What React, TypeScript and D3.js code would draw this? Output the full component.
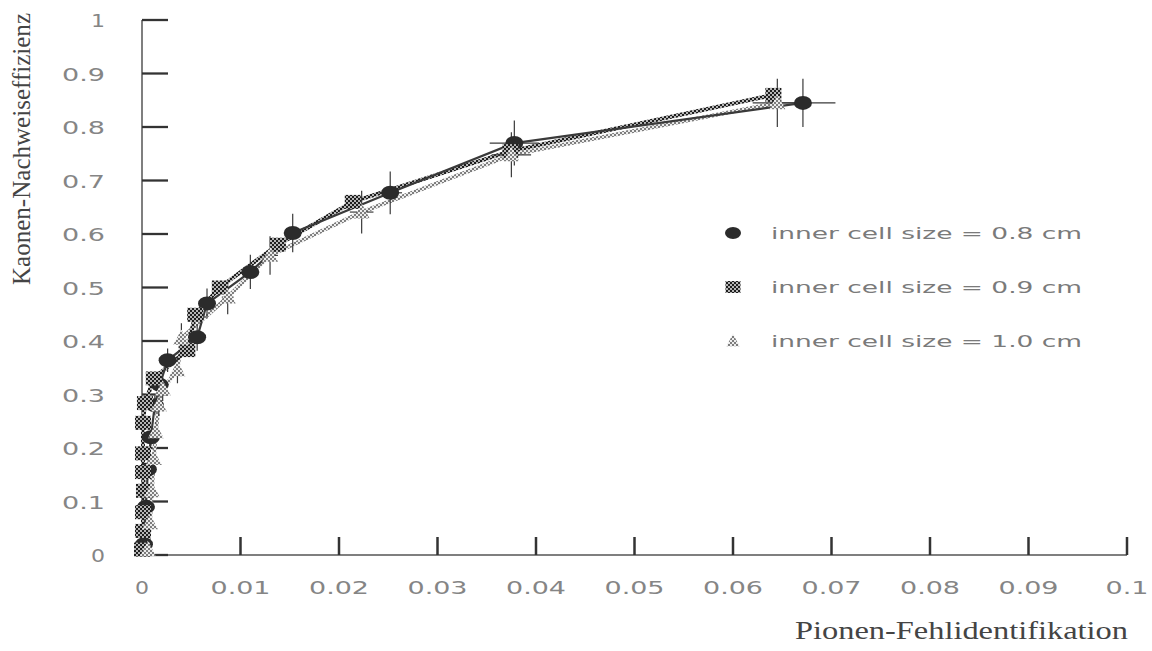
import React from "react";
import * as d3 from "d3";

const xTicks = [0, 0.01, 0.02, 0.03, 0.04, 0.05, 0.06, 0.07, 0.08, 0.09, 0.1];
const xTickLabels = ["0", "0.01", "0.02", "0.03", "0.04", "0.05", "0.06", "0.07", "0.08", "0.09", "0.1"];
const yTicks = [0, 0.1, 0.2, 0.3, 0.4, 0.5, 0.6, 0.7, 0.8, 0.9, 1];
const yTickLabels = ["0", "0.1", "0.2", "0.3", "0.4", "0.5", "0.6", "0.7", "0.8", "0.9", "1"];

// inner cell size = 0.8 cm (ellipses)
const s1X = [0.0002, 0.0004, 0.0006, 0.0009, 0.0013, 0.0018, 0.0026, 0.0056, 0.0066, 0.011, 0.0153, 0.0252, 0.0378, 0.0671];
const s1Y = [0.02, 0.09, 0.16, 0.22, 0.28, 0.318, 0.364, 0.407, 0.47, 0.529, 0.602, 0.677, 0.77, 0.845];
const s1XErr = [0.0001, 0.0001, 0.0001, 0.0002, 0.0002, 0.0002, 0.0003, 0.0004, 0.0005, 0.0006, 0.0008, 0.0012, 0.0025, 0.0033];
const s1YErr = [0.01, 0.012, 0.014, 0.016, 0.018, 0.02, 0.022, 0.025, 0.028, 0.032, 0.036, 0.04, 0.042, 0.045];

// inner cell size = 0.9 cm (squares)
const s2X = [0.0, 0.0001, 0.0001, 0.0002, 0.0001, 0.0001, 0.0001, 0.0003, 0.0012, 0.0046, 0.0054, 0.0079, 0.0138, 0.0214, 0.0374, 0.0641];
const s2Y = [0.01, 0.045, 0.08, 0.12, 0.155, 0.19, 0.247, 0.284, 0.33, 0.383, 0.449, 0.5, 0.58, 0.66, 0.755, 0.86];

// inner cell size = 1.0 cm (triangles)
const s3X = [0.0006, 0.0008, 0.001, 0.0012, 0.0014, 0.0017, 0.0021, 0.0036, 0.004, 0.0087, 0.013, 0.0223, 0.0375, 0.0645];
const s3Y = [0.01, 0.06, 0.12, 0.18, 0.23, 0.28, 0.31, 0.346, 0.405, 0.482, 0.56, 0.641, 0.748, 0.845];
const s3XErr = [0.0001, 0.0001, 0.0002, 0.0002, 0.0002, 0.0002, 0.0003, 0.0004, 0.0004, 0.0006, 0.0008, 0.0012, 0.002, 0.0025];
const s3YErr = [0.01, 0.012, 0.014, 0.016, 0.018, 0.02, 0.022, 0.025, 0.028, 0.032, 0.036, 0.04, 0.042, 0.045];

const legendLabels = ["inner cell size = 0.8 cm", "inner cell size = 0.9 cm", "inner cell size = 1.0 cm"];

const W = 1152;
const H = 651;

const x = d3.scaleLinear().domain([0, 0.1]).range([142, 1127]);
const y = d3.scaleLinear().domain([0, 1]).range([555, 20]);

function labelWidth(s: string) {
  let w = 0;
  for (const c of s) w += c === "." ? 12 : 17;
  return w - 3;
}

const tickFont = { fontFamily: "DejaVu Sans", fontSize: 18, fill: "#858585" };

function Ellipse({ cx, cy, rx = 9, ry = 7 }: any) {
  return <ellipse cx={cx} cy={cy} rx={rx} ry={ry} fill="#2b2b2b" />;
}
function Square({ cx, cy, w = 16, h = 14 }: any) {
  return <rect x={cx - w / 2} y={cy - h / 2} width={w} height={h} fill="url(#checkDark)" />;
}
function Tri({ cx, cy, s = 16 }: any) {
  const p = d3.path();
  p.moveTo(cx, cy - s * 0.55);
  p.lineTo(cx + s / 2, cy + s * 0.4);
  p.lineTo(cx - s / 2, cy + s * 0.4);
  p.closePath();
  return <path d={p.toString()} fill="url(#checkLight)" />;
}

export default function App() {
  const line = d3.line<[number, number]>().x((d) => x(d[0])).y((d) => y(d[1]));
  const s1 = s1X.map((v, i) => [v, s1Y[i]] as [number, number]);
  const s2 = s2X.map((v, i) => [v, s2Y[i]] as [number, number]);
  const s3 = s3X.map((v, i) => [v, s3Y[i]] as [number, number]);

  const errBars = (xs: number[], ys: number[], xe: number[], ye: number[], key: string) =>
    xs.map((v, i) => (
      <g key={key + i} stroke="#3a3a3a" strokeWidth={1.2}>
        <line x1={x(v)} x2={x(v)} y1={y(ys[i] - ye[i])} y2={y(ys[i] + ye[i])} />
        <line x1={x(v - xe[i])} x2={x(v + xe[i])} y1={y(ys[i])} y2={y(ys[i])} />
      </g>
    ));

  const legendY = [233, 287, 341];

  return (
    <svg width={W} height={H} style={{ position: "absolute", left: 0, top: 0, background: "#fff" }}>
      <defs>
        <pattern id="checkDark" width={4} height={4} patternUnits="userSpaceOnUse">
          <rect width={4} height={4} fill="#b5b5b5" />
          <rect x={0} y={0} width={2} height={2} fill="#1e1e1e" />
          <rect x={2} y={2} width={2} height={2} fill="#1e1e1e" />
        </pattern>
        <pattern id="checkLight" width={4} height={4} patternUnits="userSpaceOnUse">
          <rect width={4} height={4} fill="#ececec" />
          <rect x={0} y={0} width={2} height={2} fill="#7d7d7d" />
          <rect x={2} y={2} width={2} height={2} fill="#7d7d7d" />
        </pattern>
      </defs>

      {/* axes */}
      <line x1={x(0)} x2={x(0)} y1={y(1)} y2={y(0)} stroke="#555" strokeWidth={1.5} />
      <line x1={x(0)} x2={x(0.1)} y1={y(0)} y2={y(0)} stroke="#555" strokeWidth={1.5} />
      {yTicks.map((t) => (
        <line key={"yt" + t} x1={x(0)} x2={x(0) + 26} y1={y(t)} y2={y(t)} stroke="#333" strokeWidth={2.3} />
      ))}
      {xTicks.slice(1).map((t) => (
        <line key={"xt" + t} x1={x(t)} x2={x(t)} y1={y(0)} y2={y(0) - 18} stroke="#333" strokeWidth={2.5} />
      ))}
      {yTicks.map((t, i) => (
        <text
          key={"yl" + t}
          x={105}
          y={y(t) + 7}
          textAnchor="end"
          {...tickFont}
          textLength={labelWidth(yTickLabels[i])}
          lengthAdjust="spacingAndGlyphs"
        >
          {yTickLabels[i]}
        </text>
      ))}
      {xTicks.map((t, i) => (
        <text
          key={"xl" + t}
          x={x(t)}
          y={594}
          textAnchor="middle"
          {...tickFont}
          textLength={labelWidth(xTickLabels[i])}
          lengthAdjust="spacingAndGlyphs"
        >
          {xTickLabels[i]}
        </text>
      ))}

      {/* axis titles */}
      <text
        x={1128}
        y={639}
        textAnchor="end"
        fontFamily="Liberation Serif"
        fontSize={25}
        fill="#444"
        textLength={333}
        lengthAdjust="spacingAndGlyphs"
      >
        Pionen-Fehlidentifikation
      </text>
      <text
        transform={`translate(30,149) rotate(-90)`}
        textAnchor="middle"
        fontFamily="Liberation Serif"
        fontSize={25}
        fill="#444"
        textLength={272}
        lengthAdjust="spacingAndGlyphs"
      >
        Kaonen-Nachweiseffizienz
      </text>

      {/* lines */}
      <path d={line(s3) || ""} fill="none" stroke="url(#checkLight)" strokeWidth={4} />
      <path d={line(s2) || ""} fill="none" stroke="url(#checkDark)" strokeWidth={4} />
      <path d={line(s1) || ""} fill="none" stroke="#3a3a3a" strokeWidth={2.2} />

      {/* error bars */}
      {errBars(s3X, s3Y, s3XErr, s3YErr, "e3")}
      {errBars(s1X, s1Y, s1XErr, s1YErr, "e1")}

      {/* markers */}
      {s1.map((d, i) => <Ellipse key={"m1" + i} cx={x(d[0])} cy={y(d[1])} />)}
      {s2.map((d, i) => <Square key={"m2" + i} cx={x(d[0])} cy={y(d[1])} />)}
      {s3.map((d, i) => <Tri key={"m3" + i} cx={x(d[0])} cy={y(d[1])} />)}

      {/* legend */}
      <Ellipse cx={733} cy={legendY[0]} rx={8} ry={6} />
      <Square cx={733} cy={legendY[1]} w={15} h={12} />
      <Tri cx={733} cy={legendY[2]} s={13} />
      {legendLabels.map((l, i) => (
        <text
          key={"lg" + i}
          x={771}
          y={legendY[i] + 6}
          fontFamily="DejaVu Sans"
          fontSize={16}
          fill="#7a7a7a"
          textLength={311}
          lengthAdjust="spacingAndGlyphs"
        >
          {l}
        </text>
      ))}
    </svg>
  );
}
